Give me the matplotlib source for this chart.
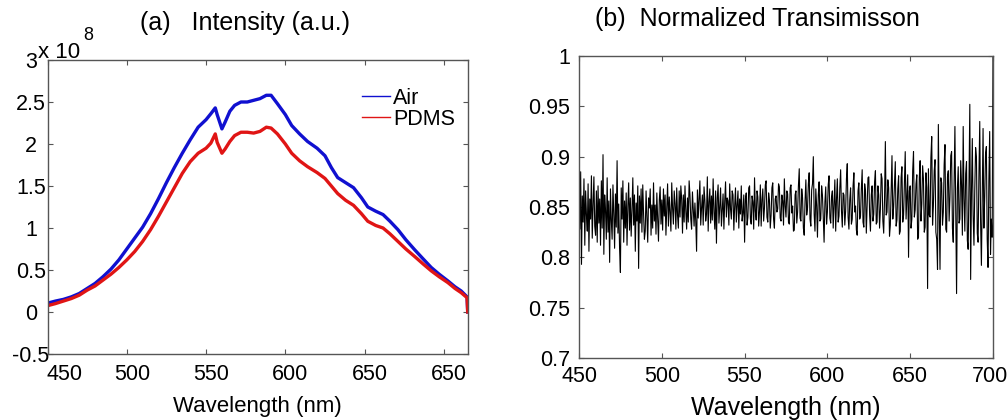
import matplotlib
matplotlib.use('Agg')
import matplotlib.pyplot as plt
import matplotlib.transforms as mtransforms
import numpy as np

plt.rcParams['font.family'] = ['Liberation Sans', 'DejaVu Sans']

# (a) intensity spectra, in units of 1e8
wl_a = [451, 455, 460, 465, 470, 475, 480, 485, 490, 495,
        500, 505, 510, 515, 520, 525, 530, 535, 540, 545,
        550, 553, 555.8, 557, 560, 562, 565, 568, 572, 576,
        580, 584, 588, 591, 595, 600, 604, 609, 614, 620,
        625, 629, 633, 638, 643, 648, 652, 657, 661.6, 666,
        671, 676, 681.6, 687, 692, 697, 702.5, 707, 710.9, 714.6,
        715]
air = [0.11, 0.13, 0.15, 0.18, 0.22, 0.28, 0.34, 0.42, 0.51, 0.62,
       0.75, 0.88, 1.01, 1.17, 1.35, 1.54, 1.72, 1.89, 2.05, 2.20,
       2.29, 2.36, 2.43, 2.35, 2.18, 2.26, 2.39, 2.46, 2.50, 2.50,
       2.52, 2.54, 2.58, 2.58, 2.48, 2.35, 2.22, 2.12, 2.03, 1.95,
       1.86, 1.72, 1.60, 1.54, 1.48, 1.36, 1.25, 1.20, 1.16, 1.08,
       0.98, 0.86, 0.74, 0.63, 0.53, 0.45, 0.37, 0.30, 0.25, 0.18,
       0.0]
pdms = [0.08, 0.10, 0.13, 0.16, 0.20, 0.26, 0.31, 0.38, 0.45, 0.53,
        0.62, 0.72, 0.84, 0.98, 1.14, 1.31, 1.48, 1.65, 1.79, 1.89,
        1.95, 2.01, 2.12, 2.02, 1.89, 1.94, 2.03, 2.10, 2.14, 2.14,
        2.13, 2.15, 2.20, 2.19, 2.12, 2.00, 1.89, 1.80, 1.73, 1.66,
        1.59, 1.50, 1.41, 1.33, 1.27, 1.17, 1.08, 1.03, 1.00, 0.93,
        0.84, 0.75, 0.66, 0.57, 0.49, 0.42, 0.35, 0.28, 0.23, 0.17,
        0.0]
xticks_a = [450, 500, 550, 600, 650, 700]
xticklabels_a = ['450', '500', '550', '600', '650', '650']
yticks_a = [-0.5, 0, 0.5, 1, 1.5, 2, 2.5, 3]
yticklabels_a = ['-0.5', '0', '0.5', '1', '1.5', '2', '2.5', '3']

# (b) normalized transmission, sampled every 0.5 nm from 450 to 700
wl_b = np.arange(450, 700.25, 0.5)
trans = [
    0.870, 0.828, 0.885, 0.793, 0.861, 0.835, 0.878, 0.812, 0.866, 0.842,
    0.826, 0.873, 0.806, 0.858, 0.838, 0.881, 0.819, 0.852, 0.880, 0.831,
    0.822, 0.866, 0.815, 0.871, 0.834, 0.858, 0.812, 0.876, 0.829, 0.902,
    0.803, 0.862, 0.847, 0.818, 0.879, 0.825, 0.856, 0.795, 0.868, 0.837,
    0.818, 0.872, 0.843, 0.809, 0.863, 0.830, 0.896, 0.824, 0.853, 0.809,
    0.785, 0.869, 0.838, 0.876, 0.815, 0.856, 0.829, 0.864, 0.812, 0.851,
    0.874, 0.827, 0.859, 0.821, 0.847, 0.879, 0.832, 0.862, 0.806, 0.854,
    0.836, 0.871, 0.789, 0.861, 0.834, 0.868, 0.825, 0.872, 0.843, 0.818,
    0.826, 0.866, 0.841, 0.815, 0.859, 0.849, 0.868, 0.822, 0.852, 0.829,
    0.874, 0.836, 0.852, 0.823, 0.864, 0.838, 0.816, 0.857, 0.870, 0.833,
    0.857, 0.827, 0.868, 0.841, 0.862, 0.822, 0.850, 0.873, 0.831, 0.860,
    0.845, 0.826, 0.874, 0.849, 0.833, 0.866, 0.853, 0.828, 0.869, 0.842,
    0.829, 0.866, 0.840, 0.871, 0.858, 0.824, 0.862, 0.835, 0.871, 0.846,
    0.828, 0.859, 0.835, 0.876, 0.862, 0.838, 0.828, 0.865, 0.848, 0.831,
    0.854, 0.836, 0.806, 0.867, 0.839, 0.858, 0.876, 0.832, 0.849, 0.862,
    0.832, 0.870, 0.857, 0.836, 0.843, 0.880, 0.826, 0.855, 0.868, 0.834,
    0.861, 0.837, 0.878, 0.845, 0.828, 0.866, 0.814, 0.859, 0.872, 0.834,
    0.850, 0.869, 0.831, 0.848, 0.863, 0.828, 0.856, 0.875, 0.840, 0.859,
    0.856, 0.832, 0.873, 0.848, 0.838, 0.866, 0.862, 0.827, 0.851, 0.869,
    0.835, 0.852, 0.866, 0.829, 0.858, 0.843, 0.871, 0.836, 0.844, 0.862,
    0.815, 0.858, 0.864, 0.832, 0.840, 0.869, 0.871, 0.838, 0.833, 0.861,
    0.855, 0.828, 0.879, 0.846, 0.837, 0.866, 0.860, 0.831, 0.846, 0.872,
    0.831, 0.857, 0.868, 0.836, 0.849, 0.872, 0.876, 0.840, 0.835, 0.864,
    0.857, 0.829, 0.842, 0.869, 0.874, 0.838, 0.829, 0.858, 0.861, 0.845,
    0.848, 0.873, 0.870, 0.839, 0.836, 0.862, 0.856, 0.832, 0.878, 0.851,
    0.840, 0.866, 0.863, 0.835, 0.833, 0.869, 0.872, 0.844, 0.851, 0.826,
    0.827, 0.862, 0.866, 0.834, 0.845, 0.871, 0.888, 0.839, 0.836, 0.868,
    0.859, 0.829, 0.822, 0.856, 0.877, 0.842, 0.849, 0.873, 0.884, 0.838,
    0.831, 0.867, 0.873, 0.900, 0.843, 0.826, 0.868, 0.851, 0.820, 0.862,
    0.875, 0.836, 0.838, 0.871, 0.862, 0.840, 0.815, 0.855, 0.870, 0.833,
    0.845, 0.872, 0.881, 0.839, 0.834, 0.860, 0.866, 0.829, 0.852, 0.877,
    0.826, 0.858, 0.878, 0.835, 0.841, 0.869, 0.887, 0.846, 0.830, 0.864,
    0.862, 0.832, 0.846, 0.878, 0.893, 0.840, 0.828, 0.857, 0.869, 0.833,
    0.838, 0.871, 0.884, 0.845, 0.851, 0.827, 0.822, 0.866, 0.874, 0.838,
    0.841, 0.868, 0.887, 0.835, 0.830, 0.873, 0.866, 0.824, 0.853, 0.879,
    0.880, 0.842, 0.826, 0.862, 0.871, 0.836, 0.843, 0.875, 0.886, 0.833,
    0.835, 0.871, 0.862, 0.829, 0.848, 0.883, 0.878, 0.836, 0.824, 0.858,
    0.915, 0.842, 0.845, 0.877, 0.869, 0.821, 0.832, 0.866, 0.901, 0.838,
    0.850, 0.873, 0.895, 0.831, 0.837, 0.868, 0.881, 0.823, 0.826, 0.879,
    0.890, 0.835, 0.842, 0.872, 0.905, 0.838, 0.859, 0.882, 0.800, 0.866,
    0.871, 0.829, 0.838, 0.886, 0.905, 0.840, 0.847, 0.873, 0.882, 0.818,
    0.820, 0.879, 0.896, 0.836, 0.853, 0.891, 0.878, 0.825, 0.830, 0.884,
    0.869, 0.769, 0.888, 0.842, 0.840, 0.899, 0.920, 0.832, 0.851, 0.886,
    0.897, 0.825, 0.818, 0.788, 0.932, 0.845, 0.788, 0.879, 0.874, 0.832,
    0.845, 0.892, 0.912, 0.828, 0.825, 0.880, 0.886, 0.836, 0.860, 0.901,
    0.905, 0.829, 0.815, 0.876, 0.930, 0.846, 0.764, 0.868, 0.890, 0.834,
    0.838, 0.896, 0.872, 0.822, 0.930, 0.858, 0.826, 0.883, 0.895, 0.817,
    0.808, 0.874, 0.952, 0.778, 0.865, 0.918, 0.842, 0.812, 0.868, 0.909,
    0.900, 0.824, 0.815, 0.881, 0.935, 0.836, 0.792, 0.862, 0.928, 0.829,
    0.860, 0.903, 0.910, 0.818, 0.790, 0.876, 0.925, 0.803, 0.838, 0.820,
    0.999,
]

spine_col = '#555555'
tick_fs = 15.5

fig = plt.figure(figsize=(10.08, 4.2), dpi=100)
ax1 = fig.add_axes([47.5 / 1008, 66 / 420, 420.2 / 1008, 294 / 420])
ax2 = fig.add_axes([579 / 1008, 62 / 420, 414 / 1008, 302 / 420])

for ax in (ax1, ax2):
    for s in ax.spines.values():
        s.set_color(spine_col)
        s.set_linewidth(1.0)
    ax.tick_params(direction='in', top=True, right=True, length=3.5,
                   color=spine_col, labelsize=tick_fs)

# panel (a)
ax1.plot(wl_a, air, color='#1010d0', lw=2.4, label='Air')
ax1.plot(wl_a, pdms, color='#e01515', lw=2.4, label='PDMS')
ax1.set_xlim(450, 715)
ax1.set_ylim(-0.5, 3)
ax1.set_xticks(xticks_a)
ax1.set_xticklabels(xticklabels_a)
ax1.set_yticks(yticks_a)
ax1.set_yticklabels(yticklabels_a)
ax1.tick_params(axis='x', pad=7)
ax1.tick_params(axis='y', pad=12)
for lab in ax1.get_yticklabels():
    lab.set_horizontalalignment('center')
for i, lab in enumerate(ax1.get_xticklabels()):
    dx = 0.17 if i == 0 else 0.05
    lab.set_transform(lab.get_transform() +
                      mtransforms.ScaledTranslation(dx, 0, fig.dpi_scale_trans))
ax1.set_xlabel('Wavelength (nm)', fontsize=16)
ax1.xaxis.set_label_coords(0.5, -0.143)

leg = ax1.legend(frameon=False, loc='upper left', bbox_to_anchor=(0.748, 0.905),
                 handlelength=1.3, handletextpad=0.15, labelspacing=0.0,
                 borderaxespad=0, borderpad=0, fontsize=15.5)
for h in leg.get_lines():
    h.set_linewidth(1.0)

fig.text(38 / 1008, 1 - 58 / 420, 'x 10', fontsize=16, va='baseline')
fig.text(83 / 1008, 1 - 40 / 420, '8', fontsize=13, va='baseline')
fig.text(245 / 1008, 1 - 23 / 420, '(a)   Intensity (a.u.)',
         ha='center', va='center', fontsize=18)

# panel (b)
ax2.plot(wl_b, trans, color='k', lw=0.8)
ax2.set_xlim(450, 700)
ax2.set_ylim(0.7, 1.0)
ax2.set_xticks([450, 500, 550, 600, 650, 700])
ax2.set_yticks([0.7, 0.75, 0.8, 0.85, 0.9, 0.95, 1.0])
ax2.set_yticklabels(['0.7', '0.75', '0.8', '0.85', '0.9', '0.95', '1'])
ax2.tick_params(axis='x', pad=6)
ax2.tick_params(axis='y', pad=6.5)
last = ax2.get_xticklabels()[-1]
last.set_transform(last.get_transform() +
                   mtransforms.ScaledTranslation(-0.03, 0, fig.dpi_scale_trans))
ax2.set_xlabel('Wavelength (nm)', fontsize=18)
ax2.xaxis.set_label_coords(0.5, -0.126)
fig.text(757 / 1008, 1 - 19 / 420, '(b)  Normalized Transimisson',
         ha='center', va='center', fontsize=18)

fig.savefig('out.png', dpi=100)
